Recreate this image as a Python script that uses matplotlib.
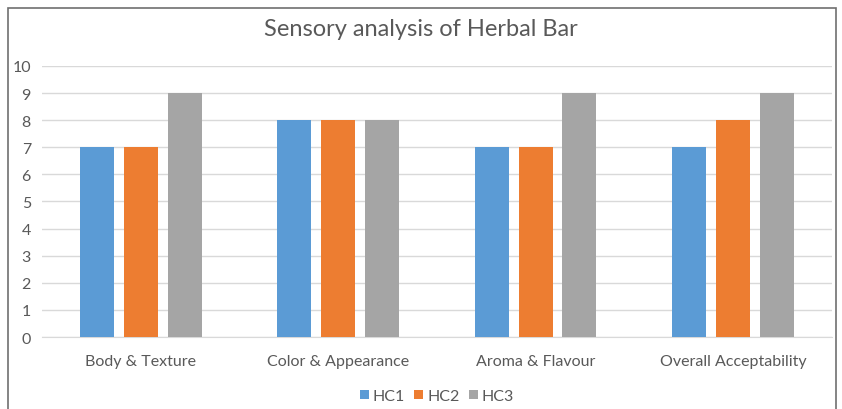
import numpy as np
import matplotlib.pyplot as plt
from matplotlib.patches import Rectangle

categories = ["Body & Texture", "Color & Appearance", "Aroma & Flavour", "Overall Acceptability"]
series_names = ["HC1", "HC2", "HC3"]
hc1 = [7, 8, 7, 7]
hc2 = [7, 8, 7, 8]
hc3 = [9, 8, 9, 9]
colors = ["#5B9BD5", "#ED7D31", "#A5A5A5"]

plt.rcParams['font.family'] = ['Lato', 'DejaVu Sans']

fig = plt.figure(figsize=(8.42, 4.10), dpi=100)
ax = fig.add_axes([0.0499, 0.1756, 0.938, 0.661])

# outer chart border
fig.patches.append(Rectangle((8 / 842, -0.05), 828 / 842, 1 - 9 / 410 + 0.05,
                             transform=fig.transFigure, fill=False,
                             edgecolor="#6f6f6f", linewidth=1.2))

x = np.arange(len(categories))
width = 0.172
step = 0.222
for i, (vals, name) in enumerate(zip([hc1, hc2, hc3], series_names)):
    ax.bar(x + (i - 1) * step, vals, width, color=colors[i], label=name, zorder=3)

ax.set_xlim(-0.5, len(categories) - 0.5)
ax.set_ylim(0, 10)
ax.set_yticks(range(0, 11))
ax.set_xticks(x)
ax.set_xticklabels(categories)
ax.grid(axis="y", color="#d9d9d9", linewidth=1, zorder=0)
for s in ["top", "right", "left"]:
    ax.spines[s].set_visible(False)
ax.spines["bottom"].set_color("#d9d9d9")
ax.tick_params(axis="both", length=0, colors="#595959", labelsize=11.5)
ax.tick_params(axis="x", pad=12)
ax.tick_params(axis="y", pad=8)

fig.text(0.5, 1 - 30 / 410, "Sensory analysis of Herbal Bar", ha="center", va="center",
         fontsize=17, color="#595959")

ax.legend(loc="center", bbox_to_anchor=(0.5, (338 - 397) / 271), ncol=3, frameon=False,
          fontsize=11.5, labelcolor="#595959", handlelength=0.55, handleheight=0.55,
          handletextpad=0.25, columnspacing=0.6)

fig.savefig("out.png", dpi=100)
